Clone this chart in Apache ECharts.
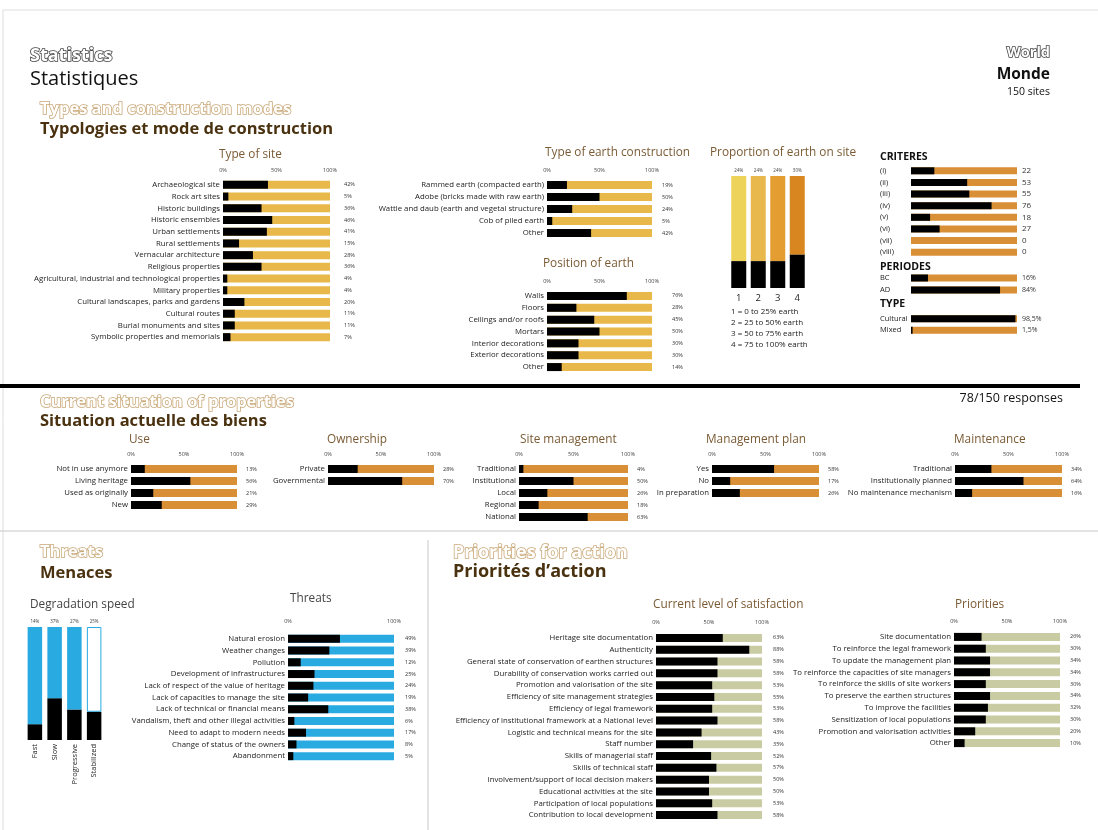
<!DOCTYPE html>
<html>
<head>
<meta charset="utf-8">
<title>Statistics - World</title>
<script src="https://cdn.jsdelivr.net/npm/echarts@6/dist/echarts.min.js"></script>
<style>
  html, body { margin: 0; padding: 0; background: #fff; }
  #chart { width: 1098px; height: 830px; }
</style>
</head>
<body>
<div id="chart"></div>
<script>
// ---- data ----
const siteTypes = ['Archaeological site', 'Rock art sites', 'Historic buildings', 'Historic ensembles', 'Urban settlements',
  'Rural settlements', 'Vernacular architecture', 'Religious properties', 'Agricultural, industrial and technological properties',
  'Military properties', 'Cultural landscapes, parks and gardens', 'Cultural routes', 'Burial monuments and sites',
  'Symbolic properties and memorials']
const siteTypeValues = [42, 5, 36, 46, 41, 15, 28, 36, 4, 4, 20, 11, 11, 7]

const earthTypes = ['Rammed earth (compacted earth)', 'Adobe (bricks made with raw earth)',
  'Wattle and daub (earth and vegetal structure)', 'Cob of piled earth', 'Other']
const earthTypeValues = [19, 50, 24, 5, 42]

const earthPositions = ['Walls', 'Floors', 'Ceilings and/or roofs', 'Mortars', 'Interior decorations', 'Exterior decorations', 'Other']
const earthPositionValues = [76, 28, 45, 50, 30, 30, 14]

const proportionCats = ['1', '2', '3', '4']
const proportionValues = [24, 24, 24, 30]
const proportionColors = ['#eed35a', '#e9b84c', '#e39d30', '#d8861f']
const proportionLegend = ['1 = 0 to 25% earth', '2 = 25 to 50% earth', '3 = 50 to 75% earth', '4 = 75 to 100% earth']

const criteria = ['(i)', '(ii)', '(iii)', '(iv)', '(v)', '(vi)', '(vii)', '(viii)']
const criteriaValues = [22, 53, 55, 76, 18, 27, 0, 0]
const periods = ['BC', 'AD']
const periodValues = [16, 84]
const propertyTypes = ['Cultural', 'Mixed']
const propertyTypeValues = [98.5, 1.5]

const useCats = ['Not in use anymore', 'Living heritage', 'Used as originally', 'New']
const useValues = [13, 56, 21, 29]
const ownershipCats = ['Private', 'Governmental']
const ownershipValues = [28, 70]
const siteMgmtCats = ['Traditional', 'Institutional', 'Local', 'Regional', 'National']
const siteMgmtValues = [4, 50, 26, 18, 63]
const planCats = ['Yes', 'No', 'In preparation']
const planValues = [58, 17, 26]
const maintenanceCats = ['Traditional', 'Institutionally planned', 'No maintenance mechanism']
const maintenanceValues = [34, 64, 16]

const speedCats = ['Fast', 'Slow', 'Progressive', 'Stabilized']
const speedValues = [14, 37, 27, 25]

const threatCats = ['Natural erosion', 'Weather changes', 'Pollution', 'Development of infrastructures',
  'Lack of respect of the value of heritage', 'Lack of capacities to manage the site', 'Lack of technical or financial means',
  'Vandalism, theft and other illegal activities', 'Need to adapt to modern needs', 'Change of status of the owners', 'Abandonment']
const threatValues = [49, 39, 12, 25, 24, 19, 38, 6, 17, 8, 5]

const satisfactionCats = ['Heritage site documentation', 'Authenticity', 'General state of conservation of earthen structures',
  'Durability of conservation works carried out', 'Promotion and valorisation of the site', 'Efficiency of site management strategies',
  'Efficiency of legal framework', 'Efficiency of institutional framework at a National level', 'Logistic and technical means for the site',
  'Staff number', 'Skills of managerial staff', 'Skills of technical staff', 'Involvement/support of local decision makers',
  'Educational activities at the site', 'Participation of local populations', 'Contribution to local development']
const satisfactionValues = [63, 88, 58, 58, 53, 55, 53, 58, 43, 35, 52, 57, 50, 50, 53, 58]

const priorityCats = ['Site documentation', 'To reinforce the legal framework', 'To update the management plan',
  'To reinforce the capacities of site managers', 'To reinforce the skills of site workers', 'To preserve the earthen structures',
  'To improve the facilities', 'Sensitization of local populations', 'Promotion and valorisation activities', 'Other']
const priorityValues = [26, 30, 34, 34, 30, 34, 32, 30, 20, 10]

// ---- layout helpers ----
const FONT = "'Open Sans', 'Noto Sans', sans-serif"
const GOLD = '#e8b84a'
const ORANGE = '#d98f36'
const BLUE = '#29abe2'
const SAGE = '#c9cca3'

const grids = []
const xAxes = []
const yAxes = []
const series = []
const pct = v => String(v).replace('.', ',') + '%'

// horizontal bar panel: black value on a full-length coloured background
function hbar(c) {
  const gi = grids.length
  grids.push({ left: c.left, top: c.top, width: c.width, height: c.height })
  const xi = xAxes.length
  xAxes.push({
    gridIndex: gi, type: 'value', min: 0, max: 100, interval: c.interval || 50, position: 'top',
    show: c.axis !== false,
    axisLine: { show: false }, axisTick: { show: false }, splitLine: { show: false },
    axisLabel: { fontSize: 5.5, color: '#444', margin: c.axisMargin || 6, formatter: '{value}%', fontFamily: FONT }
  })
  const yi = yAxes.length
  yAxes.push({
    gridIndex: gi, type: 'category', inverse: true, data: c.cats,
    axisLine: { show: false }, axisTick: { show: false },
    axisLabel: {
      fontSize: c.catSize || 7.8, color: '#222', margin: c.catMargin || 3, align: c.catAlign || 'right',
      fontFamily: FONT
    }
  })
  yAxes.push({
    gridIndex: gi, type: 'category', inverse: true, position: 'right',
    data: c.values.map(c.fmt || pct),
    axisLine: { show: false }, axisTick: { show: false },
    axisLabel: { fontSize: c.valSize || 5.5, color: '#333', margin: c.valMargin || 10, fontFamily: FONT }
  })
  series.push({
    type: 'bar', xAxisIndex: xi, yAxisIndex: yi, data: c.values,
    barWidth: c.barWidth || 8, itemStyle: { color: '#000' },
    showBackground: true, backgroundStyle: { color: c.bg, opacity: 1 },
    silent: true, animation: false
  })
}

// vertical stacked bar panel: black part at the bottom, coloured rest on top
function vbar(c) {
  const gi = grids.length
  grids.push({ left: c.left, top: c.top, width: c.width, height: c.height })
  const xi = xAxes.length
  xAxes.push({
    gridIndex: gi, type: 'category', data: c.cats, position: 'bottom',
    axisLine: { show: false }, axisTick: { show: false },
    axisLabel: { fontSize: c.catSize || 9.5, color: '#222', margin: c.catMargin || 5, rotate: c.rotate || 0, fontFamily: FONT }
  })
  xAxes.push({
    gridIndex: gi, type: 'category', data: c.values.map(pct), position: 'top',
    axisLine: { show: false }, axisTick: { show: false },
    axisLabel: { fontSize: 4.5, color: '#444', margin: 3, fontFamily: FONT }
  })
  const yi = yAxes.length
  yAxes.push({ gridIndex: gi, type: 'value', min: 0, max: 100, show: false })
  series.push({
    type: 'bar', xAxisIndex: xi, yAxisIndex: yi, stack: 's' + gi, data: c.values,
    barWidth: c.barWidth, itemStyle: { color: '#000' }, silent: true, animation: false
  })
  series.push({
    type: 'bar', xAxisIndex: xi, yAxisIndex: yi, stack: 's' + gi,
    data: c.values.map((v, i) => ({ value: 100 - v, itemStyle: c.itemStyle(i) })),
    barWidth: c.barWidth, silent: true, animation: false
  })
}

// ---- charts ----
hbar({ cats: siteTypes, values: siteTypeValues, left: 223, top: 179, width: 107, height: 164, bg: GOLD, valMargin: 14 })
hbar({ cats: earthTypes, values: earthTypeValues, left: 547, top: 179, width: 105, height: 60, bg: GOLD, valMargin: 10 })
hbar({ cats: earthPositions, values: earthPositionValues, left: 547, top: 290, width: 105, height: 83, bg: GOLD, valMargin: 20 })
vbar({
  cats: proportionCats, values: proportionValues, left: 729, top: 176, width: 78, height: 112, barWidth: 15,
  itemStyle: i => ({ color: proportionColors[i] })
})
const critOpts = { left: 911, width: 106, bg: ORANGE, axis: false, catAlign: 'left', catMargin: 31, catSize: 7.5, valSize: 8, valMargin: 5, barWidth: 7 }
hbar(Object.assign({}, critOpts, { cats: criteria, values: criteriaValues, top: 165, height: 93, fmt: v => String(v) }))
hbar(Object.assign({}, critOpts, { cats: periods, values: periodValues, top: 272, height: 24, valSize: 7 }))
hbar(Object.assign({}, critOpts, { cats: propertyTypes, values: propertyTypeValues, top: 313, height: 23, valSize: 7 }))

hbar({ cats: useCats, values: useValues, left: 131, top: 463, width: 106, height: 48, bg: ORANGE, valMargin: 9 })
hbar({ cats: ownershipCats, values: ownershipValues, left: 328, top: 463, width: 106, height: 24, bg: ORANGE, valMargin: 9 })
hbar({ cats: siteMgmtCats, values: siteMgmtValues, left: 519, top: 463, width: 109, height: 60, bg: ORANGE, valMargin: 9 })
hbar({ cats: planCats, values: planValues, left: 712, top: 463, width: 107, height: 36, bg: ORANGE, valMargin: 9 })
hbar({ cats: maintenanceCats, values: maintenanceValues, left: 955, top: 463, width: 107, height: 36, bg: ORANGE, valMargin: 9 })

vbar({
  cats: speedCats, values: speedValues, left: 25, top: 627, width: 79, height: 113, barWidth: 14.5,
  catSize: 7.5, catMargin: 4, rotate: 90,
  itemStyle: i => (i === 3 ? { color: '#fff', borderColor: BLUE, borderWidth: 1 } : { color: BLUE })
})
hbar({ cats: threatCats, values: threatValues, left: 288, top: 633, width: 106, height: 129, bg: BLUE, interval: 100, valMargin: 11, axisMargin: 9 })
hbar({ cats: satisfactionCats, values: satisfactionValues, left: 656, top: 632, width: 106, height: 189, bg: SAGE, valMargin: 11, axisMargin: 7 })
hbar({ cats: priorityCats, values: priorityValues, left: 954, top: 631, width: 106, height: 118, bg: SAGE, valMargin: 10, axisMargin: 7 })

// ---- texts and rules ----
function txt(x, y, text, size, opts) {
  opts = opts || {}
  return {
    type: 'text', x: x, y: y, silent: true,
    style: {
      text: text, fontSize: size, fontFamily: FONT, fontWeight: opts.weight || 'normal',
      fill: opts.fill || '#222', stroke: opts.stroke, lineWidth: opts.lineWidth || 0,
      align: opts.align || 'left', verticalAlign: 'middle'
    }
  }
}
const outline = (stroke) => ({ weight: 'bold', fill: '#fff', stroke: stroke, lineWidth: 1.6 })
const BROWN = '#4a3210'
const PANEL = '#7a5a34'

const graphics = [
  { type: 'rect', shape: { x: 3, y: 10, width: 1100, height: 830 }, style: { fill: 'none', stroke: '#ddd', lineWidth: 1 }, silent: true },
  txt(30, 56, 'Statistics', 18, outline('#444')),
  txt(30, 79, 'Statistiques', 20, { fill: '#111' }),
  txt(40, 109, 'Types and construction modes', 16.5, outline('#c9a878')),
  txt(40, 129, 'Typologies et mode de construction', 16.5, { weight: 'bold', fill: BROWN }),
  txt(1050, 53, 'World', 14.5, Object.assign(outline('#444'), { align: 'right' })),
  txt(1050, 75, 'Monde', 15.5, { weight: 'bold', fill: '#111', align: 'right' }),
  txt(1050, 92, '150 sites', 10.5, { fill: '#111', align: 'right' }),

  txt(219, 155, 'Type of site', 11.8, { fill: PANEL }),
  txt(545, 153, 'Type of earth construction', 11.8, { fill: PANEL }),
  txt(543, 264, 'Position of earth', 11.8, { fill: PANEL }),
  txt(710, 153, 'Proportion of earth on site', 11.8, { fill: PANEL }),
  txt(880, 157, 'CRITERES', 10.5, { weight: 'bold', fill: '#111' }),
  txt(880, 267, 'PERIODES', 10.5, { weight: 'bold', fill: '#111' }),
  txt(880, 304, 'TYPE', 10.5, { weight: 'bold', fill: '#111' })
]
proportionLegend.forEach((t, i) => graphics.push(txt(731, 312 + i * 11, t, 8, { fill: '#222' })))

graphics.push(
  { type: 'line', shape: { x1: 0, y1: 386, x2: 1080, y2: 386 }, style: { stroke: '#000', lineWidth: 4 }, silent: true },
  txt(1063, 398, '78/150 responses', 12.5, { fill: '#111', align: 'right' }),
  txt(40, 402, 'Current situation of properties', 16.5, outline('#c9a878')),
  txt(40, 421, 'Situation actuelle des biens', 16.5, { weight: 'bold', fill: BROWN }),
  txt(129, 440, 'Use', 11.8, { fill: PANEL }),
  txt(327, 440, 'Ownership', 11.8, { fill: PANEL }),
  txt(520, 440, 'Site management', 11.8, { fill: PANEL }),
  txt(706, 440, 'Management plan', 11.8, { fill: PANEL }),
  txt(954, 440, 'Maintenance', 11.8, { fill: PANEL }),

  { type: 'line', shape: { x1: 0, y1: 531, x2: 1098, y2: 531 }, style: { stroke: '#c8c8c8', lineWidth: 1 }, silent: true },
  { type: 'line', shape: { x1: 428, y1: 540, x2: 428, y2: 830 }, style: { stroke: '#c8c8c8', lineWidth: 1 }, silent: true },
  txt(40, 552, 'Threats', 16.5, outline('#c9a878')),
  txt(40, 573, 'Menaces', 16.5, { weight: 'bold', fill: BROWN }),
  txt(453, 553, 'Priorities for action', 18, outline('#c9a878')),
  txt(453, 572, 'Priorités d’action', 18, { weight: 'bold', fill: BROWN }),
  txt(30, 605, 'Degradation speed', 11.8, { fill: '#444' }),
  txt(290, 599, 'Threats', 11.8, { fill: '#444' }),
  txt(653, 605, 'Current level of satisfaction', 11.8, { fill: PANEL }),
  txt(955, 605, 'Priorities', 11.8, { fill: PANEL })
)

const chart = echarts.init(document.getElementById('chart'), null, { renderer: 'canvas' })
chart.setOption({
  backgroundColor: '#fff',
  animation: false,
  textStyle: { fontFamily: FONT },
  grid: grids,
  xAxis: xAxes,
  yAxis: yAxes,
  series: series,
  graphic: graphics
})
</script>
</body>
</html>
